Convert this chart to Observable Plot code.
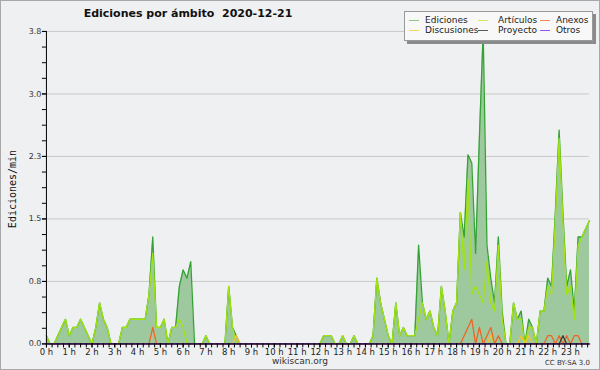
<!DOCTYPE html>
<html><head><meta charset="utf-8">
<script src="https://cdn.jsdelivr.net/npm/d3@7"></script>
<script src="https://cdn.jsdelivr.net/npm/@observablehq/plot@0.6"></script>
<style>
html,body{margin:0;padding:0;background:#fff;}
#wrap{position:relative;width:600px;height:370px;box-sizing:border-box;border:1px solid #a8a8a8;background:#eff0f1;overflow:hidden;font-family:"DejaVu Sans",sans-serif;}
#chart{position:absolute;left:-1px;top:-1px;}
#title{position:absolute;left:0;width:374px;top:6px;text-align:center;font-weight:bold;font-size:11px;white-space:pre;color:#111;}
#ylab{position:absolute;left:11px;top:188px;transform:translate(-50%,-50%) rotate(-90deg);font-family:"DejaVu Sans Mono",monospace;font-size:10px;color:#111;white-space:nowrap;}
#legend{position:absolute;left:403px;top:10px;width:187px;height:28px;background:#f8f8f8;border:1px solid #999;box-shadow:3px 3px 0 #8a8a8a;}
.li{position:absolute;font-size:9px;color:#222;white-space:nowrap;line-height:10px;}
.sw{position:absolute;width:10px;height:1px;}
#site{position:absolute;left:0;width:598px;top:355px;text-align:center;font-size:9px;color:#333;}
#cc{position:absolute;right:9px;top:358px;font-size:7px;color:#333;}
</style></head>
<body>
<div id="wrap">
  <div id="chart"></div>
  <div id="title"></div>
  <div id="ylab"></div>
  <div id="legend"></div>
  <div id="site"></div>
  <div id="cc"></div>
</div>
<script>
// ---- data (10-minute buckets, edits per minute) ----
const titleText = "Ediciones por ámbito  2020-12-21";
const yLabel = "Ediciones/min";
const hourLabels = ["0 h","1 h","2 h","3 h","4 h","5 h","6 h","7 h","8 h","9 h","10 h","11 h","12 h","13 h","14 h","15 h","16 h","17 h","18 h","19 h","20 h","21 h","22 h","23 h"];
const yTickValues = [0, 0.76, 1.52, 2.28, 3.04, 3.8];
const seriesNames = ["Ediciones","Artículos","Anexos","Discusiones","Proyecto","Otros"];

const ediciones = [
  0.1,0,0,0.1,0.2,0.3,      0.1,0.2,0.2,0.3,0.2,0.1,
  0,0.2,0.5,0.3,0.2,0,      0,0,0.2,0.2,0.3,0.3,
  0.3,0.3,0.3,0.6,1.3,0.2,  0.2,0.3,0,0.2,0.2,0.7,
  0.9,0.8,1.0,0,0,0,        0.1,0,0,0,0,0,
  0.7,0.2,0.1,0,0,0,        0,0,0,0,0,0,
  0,0,0,0,0,0,              0,0,0,0,0,0,
  0,0.1,0.1,0.1,0,0,        0.1,0,0,0.1,0,0,
  0,0,0.1,0.8,0.5,0.3,      0.1,0,0.5,0.1,0.2,0.1,
  0.1,0.1,1.2,0.5,0.3,0.4,  0.2,0.1,0.7,0.4,0,0.4,
  0.5,1.6,1.3,2.3,2.2,1.1,  2.5,3.8,1.2,0.8,0.5,1.3,
  0.4,0,0,0.5,0.3,0.4,      0,0.3,0.2,0,0.4,0.4,
  0.8,0.7,1.6,2.6,1.6,0.7,  0.9,0.4,1.3,1.3,1.4,1.5
];
const articulos = [
  0.1,0,0,0.1,0.2,0.3,      0.1,0.2,0.2,0.3,0.2,0.1,
  0,0.2,0.5,0.3,0.2,0,      0,0,0.2,0.2,0.3,0.3,
  0.3,0.3,0.3,0.6,1.1,0.2,  0.2,0.3,0,0.2,0.2,0.3,
  0.2,0,0,0,0,0,            0.1,0,0,0,0,0,
  0.7,0.2,0,0,0,0,          0,0,0,0,0,0,
  0,0,0,0,0,0,              0,0,0,0,0,0,
  0,0.1,0.1,0.1,0,0,        0.1,0,0,0.1,0,0,
  0,0,0.1,0.8,0.5,0.3,      0.1,0,0.5,0.1,0.2,0.1,
  0.1,0.1,0.3,0.5,0.3,0.4,  0.2,0.1,0.7,0.4,0,0.4,
  0.5,1.6,0.9,2.0,0.6,0.7,  0.6,0.5,1.0,0.5,0.4,1.2,
  0.3,0,0,0.5,0.3,0.3,      0,0.2,0.2,0,0.4,0.4,
  0.7,0.6,1.5,2.5,1.5,0.6,  0.7,0.3,1.2,1.3,1.4,1.5
];
const anexos = [
  0,0,0,0,0,0, 0,0,0,0,0,0, 0,0,0,0,0,0, 0,0,0,0,0,0,
  0,0,0,0,0.2,0, 0,0,0,0,0,0, 0,0,0,0,0,0, 0,0,0,0,0,0,
  0,0,0,0,0,0, 0,0,0,0,0,0, 0,0,0,0,0,0, 0,0,0,0,0,0,
  0,0,0,0,0,0, 0,0,0,0,0,0, 0,0,0,0,0,0, 0,0,0,0,0,0,
  0,0,0,0,0,0, 0,0,0,0,0,0, 0,0,0.1,0.2,0.3,0, 0.2,0,0.1,0.2,0,0.1,
  0,0,0,0,0,0, 0,0,0,0,0,0, 0.1,0.1,0,0.1,0,0.1, 0,0.1,0.1,0,0,0
];
const discusiones = [
  0,0,0,0,0,0, 0,0,0,0,0,0, 0,0,0,0,0,0, 0,0,0,0,0,0,
  0,0,0,0,0,0, 0,0,0,0,0,0, 0,0,0,0,0,0, 0,0,0,0,0,0,
  0,0,0.1,0,0,0, 0,0,0,0,0,0, 0,0,0,0,0,0, 0,0,0,0,0,0,
  0,0,0,0,0,0, 0,0,0,0,0,0, 0,0,0,0,0,0, 0,0,0,0,0,0,
  0,0,0,0,0,0, 0,0,0,0,0,0, 0,0,0,0,0,0, 0,0,0,0.1,0,0,
  0,0,0,0,0,0.1, 0,0.1,0,0,0,0, 0,0,0,0,0,0, 0,0,0,0,0,0
];
const proyecto = [
  0,0,0,0,0,0, 0,0,0,0,0,0, 0,0,0,0,0,0, 0,0,0,0,0,0,
  0,0,0,0,0,0, 0,0,0,0,0,0, 0,0,0,0,0,0, 0,0,0,0,0,0,
  0,0,0,0,0,0, 0,0,0,0,0,0, 0,0,0,0,0,0, 0,0,0,0,0,0,
  0,0,0,0,0,0, 0,0,0,0,0,0, 0,0,0,0,0,0, 0,0,0,0,0,0,
  0,0,0,0,0,0, 0,0,0,0,0,0, 0,0,0,0,0,0, 0,0,0,0,0,0,
  0,0,0,0,0,0, 0,0,0,0,0,0, 0,0,0,0,0.1,0, 0,0,0,0,0,0
];
const otros = new Array(144).fill(0);

// ---- styling ----
const lineColors = ["#34a234","#a2e312","#f06424","#f5c42a","#3a3a3a","#8b3ee8"];
const legendColors = ["#86cc86","#c8ee5c","#f28a5a","#f8d45a","#5a5a5a","#9a55e8"];
const areaColor = "#9ec99e";

const rows = ediciones.map((v, i) => ({
  i, ediciones: v, articulos: articulos[i], anexos: anexos[i],
  discusiones: discusiones[i], proyecto: proyecto[i], otros: otros[i]
}));
const keys = ["ediciones","articulos","anexos","discusiones","proyecto","otros"];
const drawOrder = [0,1,3,2,4,5];

const hourTicks = hourLabels.map((_, h) => h * 6);
const minorX = d3.range(0, 143, 1.5);
const minorY = d3.range(0, 20).map(k => k * 0.19).concat([3.8]);

const chart = Plot.plot({
  width: 600, height: 370,
  marginLeft: 46, marginRight: 10, marginTop: 31, marginBottom: 26,
  style: {background: "transparent", fontFamily: "DejaVu Sans", fontSize: "8px", color: "#222"},
  x: {domain: [0, 143]},
  y: {domain: [0, 3.8]},
  marks: [
    Plot.gridY({ticks: yTickValues.slice(1), stroke: "#c9c9c9", strokeOpacity: 1}),
    Plot.areaY(rows, {x: "i", y: "ediciones", fill: areaColor}),
    ...drawOrder.map(k => Plot.lineY(rows, {x: "i", y: keys[k], stroke: lineColors[k], strokeWidth: 1.3})),
    Plot.axisY({ticks: minorY, tickSize: 4, tickFormat: () => "", label: null, stroke: "#000"}),
    Plot.axisY({ticks: yTickValues, tickSize: 4, tickPadding: 1, tickFormat: d => d.toFixed(1), label: null, stroke: "#000", fill: "#333", fontSize: 8}),
    Plot.axisX({ticks: minorX, tickSize: 4, tickFormat: () => "", label: null, stroke: "#000"}),
    Plot.axisX({ticks: hourTicks, tickSize: 4, tickPadding: 1, tickFormat: d => hourLabels[Math.round(d / 6)], label: null, stroke: "#000", fill: "#222", fontSize: 8.5}),
    Plot.ruleX([0], {y1: 0, y2: 3.8, stroke: "#000"}),
    Plot.ruleY([0], {x1: 0, x2: 143, stroke: "#000"})
  ]
});
document.getElementById("chart").appendChild(chart);

document.getElementById("title").textContent = titleText;
document.getElementById("ylab").textContent = yLabel;
document.getElementById("site").textContent = "wikiscan.org";
document.getElementById("cc").textContent = "CC BY-SA 3.0";

// legend: 3 columns x 2 rows
const legend = document.getElementById("legend");
const colX = [4, 73, 135];
const textOff = [16, 20, 16];
const rowY = [8, 18];
const legendOrder = [[0,1,2],[3,4,5]];
legendOrder.forEach((row, r) => row.forEach((k, c) => {
  const sw = document.createElement("div");
  sw.className = "sw";
  sw.style.left = colX[c] + "px";
  sw.style.top = rowY[r] + "px";
  sw.style.background = legendColors[k];
  legend.appendChild(sw);
  const t = document.createElement("div");
  t.className = "li";
  t.style.left = (colX[c] + textOff[c]) + "px";
  t.style.top = (rowY[r] - 5) + "px";
  t.textContent = seriesNames[k];
  legend.appendChild(t);
}));
</script>
</body></html>
